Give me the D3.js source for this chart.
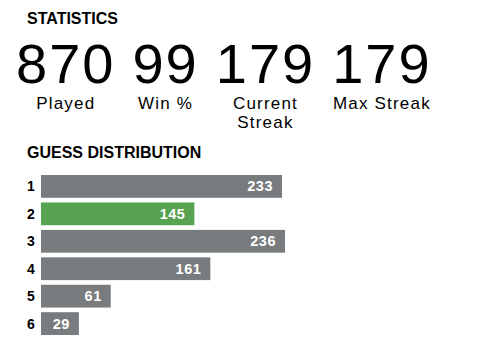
<!DOCTYPE html>
<html>
<head>
<meta charset="utf-8">
<script src="https://cdn.jsdelivr.net/npm/d3@7"></script>
<style>
  body { margin: 0; background: #fff; }
  svg { display: block; font-family: "Liberation Sans", Arial, sans-serif; }
</style>
</head>
<body>
<svg width="478" height="359"></svg>
<script>
// stats row
var statValues = ["870", "99", "179", "179"];
var statLabels = [["Played"], ["Win %"], ["Current", "Streak"], ["Max Streak"]];

// guess distribution
var guesses = ["1", "2", "3", "4", "5", "6"];
var counts = [233, 145, 236, 161, 61, 29];
var lastGuess = "2";

var svg = d3.select("svg");

svg.append("text")
    .attr("x", 27).attr("y", 24)
    .attr("font-size", 16).attr("font-weight", "bold")
    .text("STATISTICS");

// each stat column is as wide as its widest text, columns sit side by side with a gap
var gap = 17;
var cols = svg.append("g").selectAll("g")
  .data(statValues)
  .enter().append("g");

cols.append("text")
    .attr("y", 83)
    .attr("text-anchor", "middle")
    .attr("font-size", 56)
    .attr("letter-spacing", 2)
    .text(function(d) { return d; });

cols.each(function(d, i) {
  var g = d3.select(this);
  statLabels[i].forEach(function(line, j) {
    g.append("text")
      .attr("y", 109 + j * 19)
      .attr("text-anchor", "middle")
      .attr("font-size", 17)
      .attr("letter-spacing", 1.2)
      .text(line);
  });
});

var x0 = 16;
cols.each(function() {
  var w = 0;
  d3.select(this).selectAll("text").each(function() {
    w = Math.max(w, this.getComputedTextLength());
  });
  d3.select(this).attr("transform", "translate(" + (x0 + w / 2) + ",0)");
  x0 += w + gap;
});

svg.append("text")
    .attr("x", 27).attr("y", 158)
    .attr("font-size", 16).attr("font-weight", "bold")
    .text("GUESS DISTRIBUTION");

var y = d3.scaleBand()
    .domain(guesses)
    .range([175, 335])
    .paddingInner(0.17);

var x = d3.scaleLinear()
    .domain([0, d3.max(counts)])
    .range([9, 244]);

var barLeft = 41;

var rows = svg.append("g").selectAll("g")
  .data(guesses)
  .enter().append("g")
    .attr("transform", function(d) { return "translate(0," + y(d) + ")"; });

rows.append("text")
    .attr("x", 27)
    .attr("y", y.bandwidth() / 2)
    .attr("dy", "0.35em")
    .attr("font-size", 14).attr("font-weight", "bold")
    .text(function(d) { return d; });

rows.append("rect")
    .attr("x", barLeft)
    .attr("width", function(d, i) { return x(counts[i]); })
    .attr("height", y.bandwidth())
    .attr("fill", function(d) { return d === lastGuess ? "#58a351" : "#787c7e"; });

rows.append("text")
    .attr("x", function(d, i) { return barLeft + x(counts[i]) - 9; })
    .attr("y", y.bandwidth() / 2)
    .attr("dy", "0.35em")
    .attr("text-anchor", "end")
    .attr("fill", "#fff")
    .attr("font-size", 14.5).attr("font-weight", "bold")
    .attr("letter-spacing", 0.5)
    .text(function(d, i) { return counts[i]; });
</script>
</body>
</html>
